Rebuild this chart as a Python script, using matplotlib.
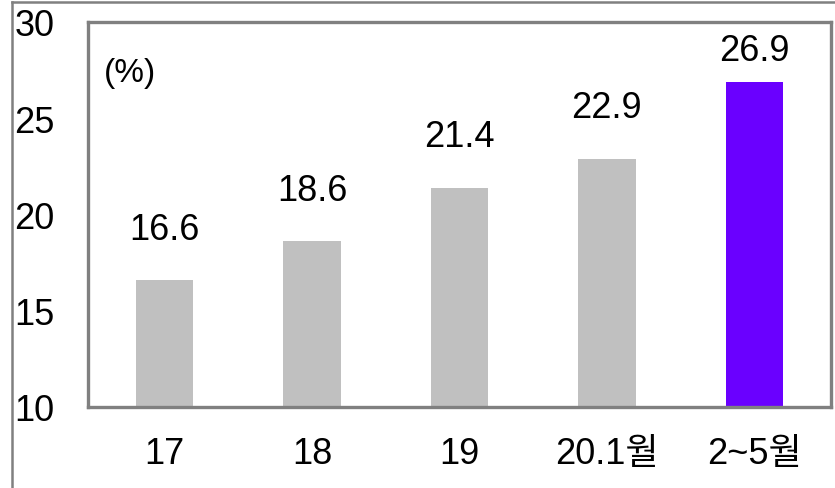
import matplotlib
matplotlib.use('Agg')
from matplotlib import pyplot as plt
from matplotlib.lines import Line2D

categories = ['17', '18', '19', '20.1월', '2~5월']
values = [16.6, 18.6, 21.4, 22.9, 26.9]
bar_colors = ['#c0c0c0', '#c0c0c0', '#c0c0c0', '#c0c0c0', '#6a00ff']
label_offsets = [24, 24, 24, 24, 10]  # pt above bar top
y_ticks = [10, 15, 20, 25, 30]

plt.rcParams['font.family'] = ['Liberation Sans', 'Noto Sans CJK KR', 'DejaVu Sans']

fig = plt.figure(figsize=(8.35, 4.89), dpi=100)
ax = fig.add_axes([88 / 835, 1 - 408 / 489, (831 - 88) / 835, (408 - 23) / 489])

x = range(len(categories))
bars = ax.bar(x, [v - 10 for v in values], bottom=10, width=0.39, color=bar_colors)

for xi, v, off in zip(x, values, label_offsets):
    ax.annotate(f'{v:.1f}', (xi, v), xytext=(0, off), textcoords='offset points',
                ha='center', va='bottom', fontsize=26)

ax.set_xlim(-0.52, 4.52)
ax.set_ylim(10, 30)
ax.set_yticks(y_ticks)
ax.set_xticks(list(x))
ax.set_xticklabels(categories)
ax.tick_params(axis='y', length=0, pad=24, labelsize=26)
ax.tick_params(axis='x', length=0, pad=21, labelsize=26)

for spine in ax.spines.values():
    spine.set_color('#808080')
    spine.set_linewidth(2.4)

ax.text(0.057, 0.868, '(%)', transform=ax.transAxes, ha='center', va='center', fontsize=24)

# outer frame lines of the original image
fig.add_artist(Line2D([12 / 835, 12 / 835], [0, 1 - 3 / 489], color='#808080', lw=1.8))
fig.add_artist(Line2D([12 / 835, 1], [1 - 3 / 489, 1 - 3 / 489], color='#808080', lw=1.8))

fig.savefig('out.png', dpi=100)
